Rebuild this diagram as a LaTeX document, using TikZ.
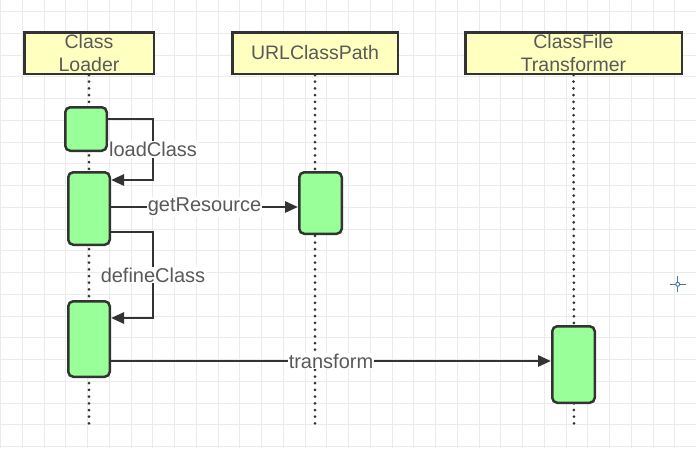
\documentclass[tikz,border=0pt]{standalone}
\usepackage{fontspec}
\setmainfont{Liberation Sans}
\usepackage{tikz}
\usetikzlibrary{arrows.meta}
\usetikzlibrary{positioning}
\definecolor{gridgray}{HTML}{EBEBEB}
\definecolor{linegray}{HTML}{333333}
\definecolor{textgray}{HTML}{595959}
\definecolor{headyellow}{HTML}{FFFFC0}
\definecolor{actgreen}{HTML}{99FF99}
\definecolor{cursorblue}{HTML}{4A7C9A}
\tikzset{
  gridline/.style={draw=gridgray, line width=1pt},
  header/.style={draw=linegray, fill=headyellow, line width=2.5pt, text=textgray,
    align=center, inner sep=0pt, font=\fontsize{19.5}{23}\selectfont},
  actbox/.style={draw=linegray, fill=actgreen, line width=2.5pt, rounded corners=5pt,
    inner sep=0pt},
  lifeline/.style={draw=linegray, line width=3pt, line cap=round,
    dash pattern=on 0pt off 6.7pt},
  msg/.style={draw=linegray, line width=2.7pt, -{Triangle[length=13pt,width=11pt]}},
  lbl/.style={fill=white, text=textgray, inner sep=1pt, font=\fontsize{20}{23}\selectfont}
}
\begin{document}
\begin{tikzpicture}[x=1pt, y=-1pt]
  \useasboundingbox[fill=white] (0,0) rectangle (696,448);
  \foreach \x in {0,...,32} {
    \draw[gridline] (\x*21.75+0.5,0) -- (\x*21.75+0.5,448);
  }
  \foreach \y in {0,...,20} {
    \draw[gridline] (0,\y*21.75+11.7) -- (696,\y*21.75+11.7);
  }
  \node[header, minimum width=129.5pt, minimum height=41.5pt] (loader) at (89,53) {Class\\Loader};
  \node[header, minimum width=165.5pt, minimum height=41.5pt] (urlpath) at (315,53) {URLClassPath};
  \node[header, minimum width=216.5pt, minimum height=41.5pt] (transformer) at (573.5,53) {ClassFile\\Transformer};
  \coordinate (loaderEnd) at (89,426);
  \coordinate (urlpathEnd) at (315,426);
  \coordinate (transformerEnd) at (574,426);
  \draw[lifeline] (loader.south) -- (loaderEnd);
  \draw[lifeline] (urlpath.south) -- (urlpathEnd);
  \draw[lifeline] (transformer.south) -- (transformerEnd);
  \node[actbox, minimum width=41.5pt, minimum height=43.5pt] (load) at (86,129) {};
  \node[actbox, minimum width=41.5pt, minimum height=72.5pt] (resource) at (89,208.5) {};
  \node[actbox, minimum width=41.5pt, minimum height=75.5pt] (define) at (89,339) {};
  \node[actbox, minimum width=42.5pt, minimum height=61.5pt] (urlact) at (320.5,203) {};
  \node[actbox, minimum width=42.5pt, minimum height=76.5pt] (transact) at (573.5,364.5) {};
  \draw[msg] (load.east |- 0,119) -- (153,119) -- node[lbl] {loadClass} (153,180) -- (resource.east |- 0,180);
  \draw[msg] (resource.east |- 0,207) -- node[lbl] {getResource} (urlact.west |- 0,207);
  \draw[msg] (resource.east |- 0,232) -- (153,232) -- node[lbl] {defineClass} (153,318) -- (define.east |- 0,318);
  \draw[msg] (define.east |- 0,361) -- node[lbl] {transform} (transact.west |- 0,361);
  \draw[cursorblue, line width=1.2pt] (669.7,284.3) -- (685.7,284.3) (677.7,276.3) -- (677.7,292.3);
  \draw[cursorblue, fill=white, line width=1pt] (677.7,284.3) circle (2pt);
\end{tikzpicture}
\end{document}
